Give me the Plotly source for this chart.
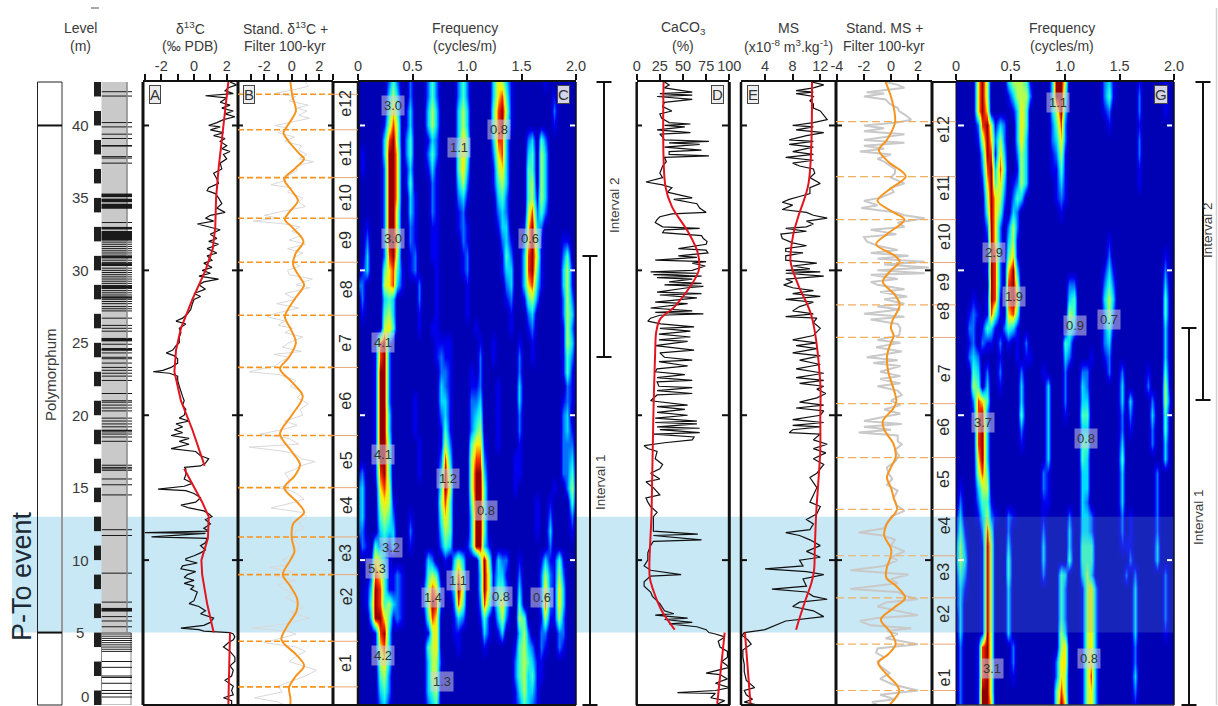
import plotly.graph_objects as go

W, H = 1218, 706
def X(px): return px / W
def Y(py): return 1 - py / H

# ---------- DATA (depth in m, value) ----------
d13c = [(43,2.2),(42.8,2.6),(42.6,2.1),(42.4,1.9),(42.2,2.4),(42.05,0.7),(41.9,2.0),(41.6,1.6),(41.4,2.2),(41.2,1.7),(41,2.4),(40.8,1.9),(40.6,2.5),(40.4,1.8),(40.2,1.4),(40,0.9),(39.9,1.6),(39.7,1.0),(39.5,1.8),(39.3,1.2),(39.1,1.9),(38.9,1.6),(38.6,2.0),(38.4,1.7),(38.2,2.2),(38,1.8),(37.7,2.0),(37.4,1.6),(37,1.7),(36.7,1.2),(36.3,1.4),(36,1.5),(35.7,0.9),(35.5,0.8),(35.3,1.3),(35,1.5),(34.6,1.7),(34.3,1.4),(34,1.9),(33.8,1.0),(33.6,0.7),(33.4,1.2),(33.2,0.2),(33,0.9),(32.8,1.6),(32.5,1.0),(32.2,1.4),(32,0.9),(31.8,1.5),(31.5,0.8),(31.2,1.4),(31,0.8),(30.7,1.1),(30.5,0.6),(30.2,1.1),(30,0.5),(29.8,1.0),(29.6,0.3),(29.4,1.5),(29.2,0.6),(29,0.3),(28.7,0.7),(28.4,0.0),(28.2,0.4),(28,0),(27.7,-0.1),(27.3,-0.2),(27,-0.4),(26.7,-0.7),(26.5,-1.1),(26.3,-0.5),(26,-0.9),(25.7,-0.8),(25.4,-0.9),(25,-0.9),(24.8,-1.1),(24.5,-1.3),(24.3,-1.7),(24.1,-1.2),(23.9,-1.0),(23.6,-1),(23.3,-1.4),(23.1,-1.9),(23,-2.5),(22.9,-1.5),(22.7,-1.0),(22.4,-1),(22,-0.9),(21.6,-0.8),(21.3,-0.7),(21,-0.6),(20.7,-0.7),(20.4,-0.5),(20,-0.6),(19.8,-0.9),(19.6,-0.3),(19.4,-1.1),(19.2,-0.7),(19,-1.2),(18.8,-0.7),(18.6,-1.4),(18.4,-0.3),(18.2,-0.9),(18,-0.3),(17.7,-1.4),(17.5,0.1),(17.2,0.4),(17,0.9),(16.7,0.7),(16.5,0.4),(16.4,-0.6),(16.3,-0.5),(15.9,-0.5),(15.6,-0.6),(15.3,-0.1),(15.1,-0.6),(14.9,-2.2),(14.8,-0.5),(14.6,0),(14.3,0.4),(14,0.1),(13.8,-0.8),(13.6,-0.3),(13.4,0.6),(13.2,0.9),(13,1.1),(12.8,0.7),(12.5,1.0),(12.2,0.6),(12,0.9),(11.9,-3.0),(11.85,0.7),(11.6,-2.6),(11.5,0.8),(11.2,0.7),(11,0.4),(10.7,0.7),(10.5,0.4),(10.3,0.0),(10.1,-0.5),(10,-0.5),(9.8,0.2),(9.6,-0.7),(9.4,-0.8),(9.2,0.1),(9,-0.4),(8.8,-0.6),(8.6,0),(8.4,-0.6),(8.2,0),(8,-0.2),(7.8,0.2),(7.5,0.1),(7.2,0),(7,-0.3),(6.8,0.3),(6.5,0.7),(6.3,0.4),(6,1.2),(5.7,1.0),(5.5,0.6),(5.3,-0.8),(5.2,0.3),(5.1,0.6),(5,2.2),(4.9,2.4),(4.7,2.5),(4.5,2.4),(4.3,2.1),(4,1.8),(3.7,2.2),(3.3,2.5),(3,2.5),(2.7,2.2),(2.4,2.4),(2,2.3),(1.7,1.9),(1.3,2.4),(1,2.3),(0.7,2.4),(0.5,1.8),(0.3,2.3),(0,2.3)]
d13c_trend = [(43,2.1),(40,1.8),(37,1.5),(35,1.35),(33,1.3),(31.5,1.15),(30,0.7),(28,-0.1),(26,-0.8),(24.5,-1.1),(23,-1.2),(21,-0.8),(19,-0.1),(16.5,0.65),(16.4,None),(16.3,-0.6),(14,0.5),(13,0.9),(11.5,0.85),(10,0.45),(9,0.5),(7,0.8),(5,1.2),(5,None),(5,2.2),(0,2.1)]
d13c_std = [(43,1),(42.7,1.2),(42.5,0.3),(42.2,-1.3),(42,0.3),(41.7,-0.2),(41.4,1.2),(41.2,0.4),(41,1.1),(40.7,0.5),(40.5,1.3),(40.2,-0.2),(40,-1.2),(39.8,-0.3),(39.5,-1),(39.2,0.2),(38.9,-0.5),(38.6,0.7),(38.3,0.5),(38,1.1),(37.7,0.5),(37.5,1.6),(37.2,0.3),(36.9,0.4),(36.5,-0.3),(36.2,-0.5),(35.9,-1.5),(35.7,0),(35.4,-0.3),(35,0.8),(34.7,0.5),(34.4,1),(34,-1),(33.8,-2),(33.6,-1),(33.4,-2.8),(33.2,-0.5),(33,0.6),(32.7,0),(32.4,0.7),(32.1,-0.2),(31.8,1),(31.5,-0.3),(31.2,0.8),(30.9,0.2),(30.6,0),(30.3,0.6),(30,-0.3),(29.7,-0.2),(29.4,1.5),(29,0.3),(28.8,1.3),(28.4,-0.5),(28,0.3),(27.7,-1.1),(27.4,0.5),(27,-1.3),(26.8,-1.8),(26.5,-0.5),(26.2,-1),(26,0.1),(25.7,-0.5),(25.4,0.8),(25,-0.2),(24.7,-0.7),(24.4,0.7),(24.2,-1.3),(24,-0.2),(23.7,-0.8),(23.4,-1.2),(23,-3.1),(22.8,-0.9),(22.4,0.3),(22,-0.1),(21.6,0.8),(21.2,0.4),(20.8,1.2),(20.4,0.6),(20,0.8),(19.6,-0.5),(19.3,0.4),(19,-0.7),(18.7,-2.3),(18.4,-0.2),(18,0.5),(17.8,-3.1),(17.5,-0.5),(17.3,0.3),(17,0.7),(16.8,1.7),(16.5,0.6),(16.3,0.3),(16,-0.5),(15.6,-0.2),(15.2,-0.2),(15,-1),(14.8,-0.1),(14.5,0.5),(14.2,0.9),(13.9,-0.2),(13.6,-1.5),(13.3,0.7),(13,1.1),(12.5,0.5),(12.2,0.9),(12,0.3),(11.5,0.1),(11,0.6),(10.5,0.3),(10,-0.7),(9.7,-0.2),(9.5,-1.6),(9.2,0.1),(8.9,-1.2),(8.6,0.3),(8.3,-1),(8,-0.6),(7.7,0.1),(7.4,-0.5),(7,0.5),(6.7,0.8),(6.4,-0.1),(6,1.3),(5.6,-0.5),(5.3,-2.9),(5.1,-0.3),(4.9,0.3),(4.6,-0.8),(4.3,-2),(4,0.3),(3.7,1),(3.4,0.4),(3,-0.2),(2.7,0.8),(2.4,1.8),(2,1),(1.7,0.2),(1.3,-1),(0.9,-0.7),(0.5,-2.7),(0.2,-1),(0,-0.5)]
d13c_filter = [(43,-0.1),(42,0.05),(41,0.3),(40,-0.3),(39.5,-0.6),(39,-0.3),(38,0.6),(37.7,0.9),(37,0.2),(36.3,-0.55),(35.5,0),(34.8,0.45),(34,-0.2),(33.5,-0.5),(33,0),(32,0.85),(31.2,0.3),(30.4,0.1),(29.5,0.6),(29,0.9),(28,0.2),(26.8,-0.5),(26,-0.1),(25,0.3),(24,-0.2),(23.2,-0.85),(22.3,0),(21.3,0.8),(20,0),(18.7,-0.85),(17.5,0),(16.6,0.6),(15.8,0.2),(15,-0.55),(14,0.4),(13.3,0.9),(12.5,0.1),(11.5,0),(10.6,0.2),(10,-0.1),(9,-0.65),(8.2,-0.1),(7.3,0.4),(6.5,0.35),(5.5,-0.3),(4.5,-0.75),(3.5,0.3),(2.7,0.9),(2,0.3),(1.2,-0.2),(0.5,-0.1),(0,-0.1)]
caco3 = [(43,30),(42.8,35),(42.6,30),(42.3,60),(42.2,25),(42.1,60),(42,22),(41.8,60),(41.6,30),(41.3,28),(41,38),(40.8,25),(40.5,27),(40.2,35),(40.1,58),(40,30),(39.9,52),(39.7,22),(39.5,58),(39.4,25),(39.2,28),(39,30),(38.9,78),(38.8,35),(38.7,68),(38.5,30),(38.3,70),(38.2,35),(38,35),(37.9,78),(37.8,30),(37.5,32),(37.2,28),(37,27),(36.7,25),(36.4,28),(36.1,10),(35.9,28),(35.7,38),(35.4,33),(35,60),(34.9,40),(34.6,65),(34.3,68),(34,75),(33.9,38),(33.7,25),(33.5,22),(33.3,20),(33,28),(32.9,68),(32.8,30),(32.6,28),(32.4,70),(32.2,72),(32,76),(31.8,75),(31.5,45),(31.4,75),(31.2,77),(31,45),(30.9,65),(30.7,20),(30.6,75),(30.5,60),(30.3,74),(30,60),(29.9,15),(29.8,65),(29.7,18),(29.6,70),(29.5,22),(29.4,60),(29.2,35),(29.1,70),(29,30),(28.9,72),(28.8,55),(28.5,22),(28.4,70),(28.3,25),(28.1,65),(27.8,20),(27.7,55),(27.4,15),(27.2,60),(27.1,20),(27,72),(26.9,25),(26.7,15),(26.5,12),(26.3,26),(26.1,62),(26,25),(25.8,58),(25.6,24),(25.4,58),(25.2,24),(25.1,55),(24.8,20),(24.5,62),(24.3,25),(24,30),(23.8,60),(23.7,24),(23.4,55),(23.2,22),(23,20),(22.8,52),(22.6,22),(22.4,60),(22.3,22),(22,24),(21.9,60),(21.7,22),(21.5,60),(21.4,22),(21,15),(20.7,55),(20.6,22),(20.4,52),(20.2,22),(20,55),(19.8,20),(19.6,65),(19.5,20),(19.4,65),(19.2,22),(19.1,68),(19,25),(18.8,68),(18.7,18),(18.5,62),(18.3,60),(18.1,30),(17.9,8),(17.7,12),(17.5,22),(17,20),(16.6,28),(16.3,25),(16,15),(15.6,25),(15.4,10),(15,18),(14.5,25),(14.3,10),(14,12),(13.7,15),(13.3,22),(13,18),(12.5,18),(12,18),(11.8,66),(11.7,18),(11.4,70),(11.3,18),(11,15),(10.5,12),(10,12),(9.6,8),(9.3,15),(9,48),(8.9,15),(8.5,8),(8.2,8),(7.8,15),(7.5,17),(7,25),(6.5,30),(6.3,40),(6.2,20),(6,55),(5.9,30),(5.7,60),(5.6,35),(5.4,65),(5.2,75),(5,78),(4.9,85),(4.7,95),(4.4,88),(4,90),(3.7,98),(3.3,98),(3,92),(2.6,100),(2.2,75),(2.1,90),(1.8,98),(1.5,85),(1.2,100),(1,85),(0.85,44),(0.8,85),(0.5,80),(0.3,95),(0,85)]
caco3_trend = [(43,29),(35.8,31),(34.4,38),(32.6,56),(31.2,66),(30,67),(28.9,58),(27.5,41),(26.6,25),(25.7,21),(24.5,20),(20,18),(13.2,16),(8.85,14),(7.9,18),(6.5,27),(5.2,41),(5.1,None),(5,95),(0.1,87)]
ms = [(43,10.8),(42.8,12.5),(42.6,11),(42.4,8.5),(42.3,11),(42.2,8.5),(42,11),(41.7,10.5),(41.5,11),(41.2,11),(41,12),(40.7,12.5),(40.4,13),(40.2,11),(40,8),(39.9,11),(39.7,8.5),(39.5,12.5),(39.3,10),(39,7.5),(38.9,11),(38.7,7.5),(38.5,11),(38.2,8),(38,11),(37.8,7),(37.6,11),(37.4,8),(37.2,9),(37,11),(36.7,11.2),(36.4,10.5),(36,12),(35.7,10.5),(35.3,10.5),(35.1,9),(34.9,7.5),(34.7,6.5),(34.5,8),(34.2,6.5),(34,10),(33.8,11),(33.6,13),(33.4,10),(33.2,11),(33,10),(32.9,7),(32.7,10),(32.5,6.3),(32.2,6.5),(31.9,8),(31.7,10),(31.5,7),(31.3,7),(31.2,9.5),(31,7),(30.7,7),(30.5,11.5),(30.3,8),(30.1,10.5),(30,7),(29.9,12),(29.8,7),(29.6,12.5),(29.4,7),(29.2,8),(29,6.7),(28.8,8),(28.6,11),(28.4,8),(28.2,12),(28,7),(27.8,11),(27.5,9),(27.2,8),(27,11),(26.8,7),(26.7,11.5),(26.4,11),(26,12),(25.5,11),(25.2,8),(25,11.5),(24.8,8.5),(24.6,11.5),(24.3,8),(24.1,12),(23.8,9),(23.5,12),(23.2,8.5),(22.9,12.5),(22.6,8.5),(22.4,12.5),(22.2,9),(22,12.5),(21.8,11.5),(21.5,12.8),(21.2,11.5),(20.9,9),(20.7,12.5),(20.5,8.5),(20.3,12.5),(20,12),(19.7,8),(19.5,12.5),(19.3,8),(19.2,12),(19,8),(18.8,7.5),(18.7,12),(18.3,11),(18,13),(17.7,11),(17.4,12.8),(17,11),(16.6,12.5),(16,11.5),(15.7,10.5),(15.3,11),(15,11.5),(14.5,11),(14,10.5),(13.7,12),(13.2,11.5),(12.8,10),(12.5,11),(12.1,10.5),(11.9,7),(11.7,9),(11.4,10.5),(11,12),(10.6,10),(10.2,12),(10,9),(9.6,9.5),(9.4,4),(9.2,10),(9,12.5),(8.7,9.5),(8.2,10),(8,5),(7.8,10),(7.5,11),(7.3,13),(7.1,9),(6.8,8),(6.5,11),(6.1,12.5),(5.8,7),(5.5,5.5),(5.2,4),(5,1),(4.8,0.7),(4.5,1.5),(4.2,2),(3.8,0.8),(3.3,0.8),(2.8,1),(2.3,1),(1.7,1.3),(1.2,2.5),(1,1),(0.7,1.3),(0.4,2.2),(0.2,1),(0,3)]
ms_trend = [(43,10.8),(36,10.3),(33.7,8.8),(32.5,8.1),(30.6,7.7),(29,8.8),(26.9,10.7),(22.2,12),(19.9,12),(17.6,12),(15.3,11.7),(13.2,11.4),(10.7,11.2),(9.3,11.1),(8.4,10.7),(7.3,9.9),(6,9),(5.2,8.5),(5.1,None),(5,1.1),(0.1,1.9)]
ms_std = [(43,-0.4),(42.8,0.5),(42.6,1),(42.3,-1.8),(42.2,-0.5),(42,-2),(41.8,-0.4),(41.5,-0.1),(41.2,0.5),(41,0.6),(40.7,1.1),(40.4,1.5),(40.2,0.5),(40,-2),(39.8,-0.5),(39.6,-2),(39.4,1),(39.2,-0.5),(39,-2),(38.8,1),(38.6,-2),(38.4,-0.5),(38.2,-2.3),(38,0),(37.7,-1),(37.5,-0.5),(37,0.3),(36.7,0.3),(36.4,0),(36,1),(35.7,0),(35.4,0.2),(35,-0.8),(34.8,-2),(34.5,-1),(34.3,-2.2),(34,0.4),(33.8,1),(33.6,2.5),(33.3,0.5),(33,1),(32.8,-1.5),(32.5,0.4),(32.3,-2),(32,-1.8),(31.7,-1),(31.4,0.5),(31.2,-1.5),(31,1.3),(30.8,-1),(30.6,2.5),(30.4,-0.5),(30.2,2.8),(30,-1),(29.8,2.5),(29.7,-1.5),(29.4,0.5),(29.2,-1.5),(29,-1),(28.7,1),(28.5,-0.8),(28.2,1.2),(28,-0.5),(27.7,1),(27.5,-1),(27.3,0.7),(27,-2),(26.8,1),(26.6,-1.5),(26.3,0.5),(26,0.7),(25.5,0.6),(25.2,-1),(25,0.7),(24.7,-1.1),(24.4,0.8),(24,-1.8),(23.8,0.5),(23.6,-1.3),(23.4,0.7),(23,-0.8),(22.7,0.7),(22.5,-0.8),(22.2,0.7),(22,-1),(21.7,0.5),(21.4,0.8),(21,0),(20.7,0.7),(20.4,-0.5),(20.1,0.7),(19.9,-0.5),(19.6,-2),(19.4,0.8),(19.2,-2),(19,0),(18.8,-2.4),(18.6,0.5),(18.2,0.5),(18,0.8),(17.6,0.3),(17.2,0.6),(16.8,0.3),(16.4,-0.3),(16,-0.2),(15.6,0.1),(15.2,-0.3),(14.8,0.5),(14.3,0.2),(13.8,0.4),(13.4,1),(13,0),(12.6,-0.3),(12.2,-0.5),(11.9,-2.4),(11.7,-0.6),(11.4,0.3),(11,0),(10.6,1),(10.2,0),(10,0.5),(9.6,-0.5),(9.3,-3),(9,1.3),(8.7,0),(8.4,0.5),(8,-3),(7.8,0.5),(7.5,1.2),(7.3,2),(7.1,-0.3),(6.8,-1),(6.5,0.5),(6.2,2),(6,-1),(5.8,-2.3),(5.5,-1.5),(5.3,1.5),(5.1,-0.3),(4.9,0.5),(4.6,-0.4),(4.2,2),(3.9,-1),(3.6,-1.1),(3.3,-0.5),(3,-1),(2.7,-0.8),(2.2,-0.1),(1.8,-0.8),(1.4,0.2),(1,2),(0.7,-0.8),(0.4,0.3),(0.2,-1.4),(0,-1)]
ms_filter = [(43,-0.4),(42,0),(41,0.25),(40.2,0.3),(39,-0.3),(38.3,-0.9),(37.5,-0.2),(36.5,1.1),(35.6,-0.1),(34.8,-1.0),(34,0.2),(33.5,1.0),(32.5,-0.3),(31.8,-1.1),(31,0.3),(30.6,0.65),(30,0),(29.2,-0.6),(28.3,0.3),(27.6,0.65),(26.5,0.1),(26,0),(25.5,0.2),(25,0),(24.5,-0.2),(24,-0.3),(23,-0.2),(21.8,0.2),(21,0.4),(20.5,0.2),(19.6,-0.6),(19,-0.5),(18,0.2),(17.1,0.35),(16.4,0),(15.7,-0.3),(15,0),(14.3,0.2),(13.5,0.45),(12.5,-0.3),(11.7,-0.5),(10.8,0),(10.3,0),(9.5,-0.3),(8.8,-0.35),(8.2,0.4),(7.4,1.05),(6.7,0.2),(5.9,-0.75),(5,0),(4.2,0.35),(3.5,-0.2),(2.9,-0.95),(2.2,-0.4),(1.3,0.5),(0.9,0.6),(0,-0.1)]

d13c_cycle_depths = [42.15,39.7,36.4,33.6,30.56,26.9,23.3,18.6,15.0,11.6,9.0,4.4,1.25]
ms_cycle_depths = [40.26,36.47,33.5,30.54,27.62,25.37,20.8,17.08,13.5,10.3,7.4,4.2,1.0]
cycle_names = ["e12","e11","e10","e9","e8","e7","e6","e5","e4","e3","e2","e1"]
cycle_c_depths = [41.5,38.1,35,32.1,28.7,25,21,16.9,13.8,10.5,7.5,2.9]
cycle_g_depths = [39.7,35.7,32.3,29.2,27.2,22.9,19.2,15.6,12.4,9.2,6.3,1.9]

level_ticks = [40,35,30,25,20,15,10,5,0]
mark_depths = [40,30,20,10]
scale_bottoms = [42,40,38,36,34,32,30,28,26,24,22,20,18,16,14,12,10,8,6,4,2,0]
bed_lines = [42.33,42.03,40.2,39.9,39.4,39.1,38.6,37.85,37.75,37.4,33.3,31.95,31.8,31.65,31.5,31.35,31.2,31.05,30.7,30.55,30.15,30.0,29.85,29.7,29.55,29.4,29.25,29.1,28.95,28.75,28.6,28.45,28.3,28.15,28.0,27.85,27.7,27.5,27.35,27.2,26.7,26.2,26.0,25.8,25.3,24.9,24.6,24.3,24.0,23.9,23.6,23.3,23.1,22.9,22.7,22.4,21.5,21.0,20.9,20.7,20.5,20.3,19.8,19.6,19.4,19.2,18.85,18.7,18.5,18.2,16.55,16.4,16.3,16.2,15.6,15.2,14.5,12.1,11.7,9.1,7.1,6.1,5.8,5.4,4.9,4.75,4.6,4.45,4.3,4.15,4.0,3.85,3.7,3.0,2.6,2.0,1.9,1.5,1.0,0.8,0.55]
thick_beds = [(38.65,38.55),(35.3,35.05),(34.95,34.7),(34.6,34.25),(33.0,32.82),(32.72,32.05),(31.0,30.82),(30.5,30.3),(28.95,28.75),(28.2,28.05),(25.3,25.1),(24.6,24.45),(19.0,18.9),(6.7,6.45)]

freq_step = 0.04
spec_depths_top_down = list(range(43,-1,-1))
spec_c = [
"1111111353 1131113531 1113531111 1476421111 11121111111",
"1111111464 1131113531 1113531111 1478521111 11111211111",
"1111111575 1241114641 1114641111 1589621111 11111311111",
"1111112686 1241114641 1114641111 1589521111 11111211111",
"1111114896 1351112431 1114751111 1488411113 41531111111",
"1211114997 1351113531 1115751111 1378411114 51641111111",
"1211113997 1241112421 1115741111 1267411115 51641111111",
"1111113997 1251111321 1114631111 1256411115 61641111111",
"1111113997 1142111321 1113421111 1145311115 62641111111",
"1111113996 1142111321 1112311111 1134311116 83531111111",
"1121113996 1132111221 1112321111 1124411127 94311111111",
"1131113997 1132111221 1111321111 1113421137 95211112211",
"1141113896 1123111221 1111231111 1112531148 96211113511",
"1241115785 2123111121 1111231111 1112441148 95211114621",
"3311116784 2111311121 1111121111 1111341147 84211114621",
"1311114541 1111311121 1111121111 1111231125 63111113631",
"1211115641 1111211121 1111121111 1111121113 41111113641",
"1111116751 1111211221 1111111211 1111121112 31111112631",
"1111289311 1111111122 2211111121 1211111211 21111112641",
"1111289311 1111111123 2211111131 1211111311 21111112531",
"1111299311 1111111113 3211112131 1111111311 11111112521",
"1111299311 1111111114 3211112231 1121111411 11111111321",
"1111299311 1112111114 4211113341 1121111411 11111112321",
"1111299411 1112111113 4211113451 1121111311 11111113411",
"1111299411 1112111112 5211113561 1121111311 11111113421",
"1111299511 1111211112 6311115772 1121111211 11111113331",
"1111299511 1111211113 8411116883 1111112211 11111113341",
"2311289511 1111211114 9511116994 1111112211 11111113351",
"3411178611 1111111115 9611116995 1111112111 11111211361",
"3411167621 1111111116 8511115995 1111111111 12112111151",
"3411156531 1121111115 7511114995 1111111111 12113111131",
"3311145441 1131111114 6511114995 1111111111 12114111121",
"1321534241 1121111113 5411124994 2111111111 11113111111",
"1112764211 1111114311 2146411159 5143311211 11242252111",
"1113875223 2111115651 1258511149 6244211311 11363263111",
"1124985223 2111126872 1249611149 6255311411 11373274111",
"1125985643 2111126982 1138511138 5257411511 11383274111",
"1114997523 2111115871 1124311125 2146311651 11262263111",
"1111289411 1111112671 1122111114 2124111463 11331133111",
"1111278411 1111115671 1112111112 1111112564 31321132111",
"1111167411 1111114662 1111111111 1111113565 42211111111",
"1111156311 1111114661 1111111111 1111113564 52211111111",
"1111145311 1111114561 1111111111 1111112464 42111111111",
"1111134211 1111113451 1111111111 1111112354 32111111111",
]
spec_g = [
"1111179611 1146665211 1149961111 1111342111 11211111211",
"1111179611 1124666311 1149951111 1111352111 11311111211",
"1111179711 1112475111 1146941111 1111231111 11311111211",
"1111138962 4311475111 1135831111 1111121111 11211111111",
"1111126973 6311474111 1134731111 1111111111 11311111111",
"1111114982 7411364111 1123621111 1111111111 11311111111",
"1111113894 8511264111 1122521111 1111111111 11211111111",
"1111112795 7412364111 1112421111 1111111111 11211111111",
"1111111697 6313541111 1112321111 1111111111 11111111111",
"1111111597 5214311111 1111211111 1111111111 11111111111",
"1111111397 3136311111 1111111111 1111111111 11111111111",
"1111111297 3146211111 1111111111 1111121111 11111111111",
"1111111198 3157211111 1111111111 1111131111 11111111211",
"1111111298 3179411111 1111111111 1111242111 11111111311",
"1111111198 3189611111 1111113311 1111353111 11111111411",
"1111211298 2189711111 1111114511 1111464111 11111111511",
"1112321285 2178511111 1111116511 1111363111 11111111511",
"1113312542 1354211111 1111115411 1111352111 11111111411",
"1112313221 3121213111 1111154111 1111341111 11111111411",
"1113431111 2111212211 1111143111 1211231111 11111111411",
"1111541311 3111131111 2111131113 3111131131 11112111511",
"1111651411 2111141111 1411131114 3111111141 11113111611",
"1111387511 1111141111 1411131114 4111111141 41111311621",
"1111289311 1111151111 1411121115 5111111131 31111411511",
"1111189411 1111131111 1411111114 4111111131 21111311511",
"1111189411 1111121111 1411111115 5111111141 11111311411",
"1111179411 1111111111 1411111115 4111111151 11111111411",
"1111168511 1111111111 3211111114 4111111141 11111131111",
"1211146611 1111111111 3211111114 4111111141 11111131111",
"1311135521 1111111111 2211111114 3111111141 11111131111",
"2411124632 1132111111 2111113114 4311111131 21111131111",
"2521113851 1131111111 3111114114 4311111131 21111131111",
"3631112961 1141111111 4111114115 5511111122 21111141111",
"3641112961 1151111111 4111115115 5511111111 31111141111",
"2531112961 1151111111 3111541114 6411111113 13111111311",
"2421112961 1141111111 1111531112 6731111111 14111111311",
"2411112961 1141111111 1111531112 6731111111 14111111311",
"1411112961 1141111111 1111531112 6731111111 14111111311",
"1411112961 1141111111 1111641112 6731111111 14111111211",
"1311128961 1113111111 1111671112 6731111111 13111111111",
"1311128961 1113111111 1113771112 6731111111 13111111111",
"1311128961 1112111111 1113761112 6831111111 14111111111",
"1311129961 1111111111 1115861112 6731111111 13111111111",
"1311129971 1111111111 1115971112 6731111111 12111111111",
]
c_labels = [("3.0",.32,41.35),("0.8",1.29,39.7),("1.1",.925,38.5),("3.0",.32,32.2),("0.6",1.58,32.2),("4.1",.23,25),("4.1",.23,17.3),("1.2",.83,15.6),("0.8",1.17,13.4),("3.2",.30,10.9),("5.3",.17,9.4),("1.1",.92,8.6),("1.4",.69,7.4),("0.8",1.31,7.5),("0.6",1.69,7.4),("4.2",.23,3.45),("1.3",.77,1.65)]
g_labels = [("1.1",.934,41.6),("2.9",.345,31.2),("1.9",.53,28.2),("0.9",1.09,26.2),("0.7",1.40,26.6),("3.7",.25,19.5),("0.8",1.19,18.4),("0.8",1.22,3.2),("3.1",.33,2.5)]

# ---------- STYLE ----------
FONT = "Liberation Sans"
TXT = "#3a3a3a"
ORANGE = "#f7941d"
RED = "#e3141f"
BAND = "#c9e8f5"
JET = [[0,"#00007a"],[1/9,"#0000b4"],[2/9,"#0000f0"],[3/9,"#0070ff"],[4/9,"#00dcff"],[5/9,"#40ffc0"],[6/9,"#b4ff50"],[7/9,"#ffee00"],[8/9,"#ff3000"],[1,"#900000"]]

def unz(pairs):
    return [p[1] for p in pairs], [p[0] if p[1] is not None else None for p in pairs]

def grid(rows):
    out = []
    for r in rows[::-1]:
        s = r.replace(" ", "").ljust(51, "1")[:51]
        out.append([int(c) for c in s])
    return out

fig = go.Figure()
def line(pairs, ax, color, width, spline=False):
    xs, ys = unz(pairs)
    fig.add_trace(go.Scatter(x=xs, y=ys, xaxis=ax, yaxis="y", mode="lines", hoverinfo="skip", showlegend=False,
                             line=dict(color=color, width=width, shape="spline" if spline else "linear", smoothing=0.9)))

freqs = [i * freq_step for i in range(51)]
depths_up = spec_depths_top_down[::-1]
fig.add_trace(go.Heatmap(z=grid(spec_c), x=freqs, y=depths_up, xaxis="x3", yaxis="y", colorscale=JET, zmin=0, zmax=9, zsmooth="best", showscale=False, hoverinfo="skip"))
fig.add_trace(go.Heatmap(z=grid(spec_g), x=freqs, y=depths_up, xaxis="x7", yaxis="y", colorscale=JET, zmin=0, zmax=9, zsmooth="best", showscale=False, hoverinfo="skip"))

line(d13c, "x", "#111111", 1.2)
line(d13c_trend, "x", RED, 2)
line(d13c_std, "x2", "#d9d9d9", 1)
line(d13c_filter, "x2", ORANGE, 2, True)
line(caco3, "x4", "#111111", 1.2)
line(caco3_trend, "x4", RED, 2, True)
line(ms, "x5", "#111111", 1.2)
line(ms_trend, "x5", RED, 2, True)
line(ms_std, "x6", "#c9c9c9", 2)
line(ms_filter, "x6", ORANGE, 2, True)

# lithology beds on their own hidden axis
bx, by = [], []
for d in bed_lines:
    bx += [0, 1, None]; by += [d, d, None]
fig.add_trace(go.Scatter(x=bx, y=by, xaxis="x8", yaxis="y", mode="lines", hoverinfo="skip", showlegend=False, line=dict(color="#1a1a1a", width=1)))

def xax(x0, x1, rng, tickvals, ticktext, minor=None):
    ax = dict(domain=[X(x0), X(x1)], range=rng, anchor="y", side="top", showgrid=False, zeroline=False,
              showline=True, linecolor="#111", linewidth=2, ticks="outside", ticklen=6, tickwidth=1.5, tickcolor="#111",
              tickmode="array", tickvals=tickvals, ticktext=ticktext, tickangle=0, ticklabelstandoff=-3,
              tickfont=dict(family=FONT, size=14.5, color=TXT))
    if minor:
        ax["minor"] = dict(tickmode="array", tickvals=minor, ticks="outside", ticklen=6, tickwidth=1.5, tickcolor="#111", showgrid=False)
    return ax

freq_ticks = [0, .5, 1, 1.5, 2]
freq_text = ["0", "0.5", "1.0", "1.5", "2.0"]
layout = dict(
    width=W, height=H, margin=dict(l=0, r=0, t=0, b=0, autoexpand=False), paper_bgcolor="white", plot_bgcolor="rgba(0,0,0,0)",
    showlegend=False, font=dict(family=FONT, color=TXT),
    yaxis=dict(domain=[Y(705), Y(82)], range=[0, 43], visible=False, fixedrange=True, anchor="x"),
    xaxis=xax(143, 238, [-3.12, 2.69], [-2,0,2], ["-2","0","2"], [-3,-1,1]),
    xaxis2=xax(238, 333, [-3.91, 3.0], [-2,0,2], ["-2","0","2"], [-3,-1,1,3]),
    xaxis3=xax(358, 576, [0, 2], freq_ticks, freq_text),
    xaxis4=xax(636.7, 729.3, [0, 100], [0,25,50,75,100], ["0","25","50","75","100"]),
    xaxis5=xax(741, 836, [0.53, 14.27], [4,8,12], ["4","8","12"]),
    xaxis6=xax(836, 932, [-4.07, 3.04], [-4,-2,0,2], ["-4","-2","0","2"]),
    xaxis7=xax(956, 1174, [0, 2], freq_ticks, freq_text),
    xaxis8=dict(domain=[X(101.5), X(132)], range=[0, 1], anchor="y", visible=False),
)
shapes = []
def seg(x0, y0, x1, y1, color="#111", w=1, layer="above", dash=None):
    shapes.append(dict(type="line", xref="paper", yref="paper", x0=X(x0), x1=X(x1), y0=Y(y0), y1=Y(y1), layer=layer,
                       line=dict(color=color, width=w, dash=dash or "solid")))
def dseg(x0, x1, d, color, w=1, dash=None, layer="above"):
    shapes.append(dict(type="line", xref="paper", yref="y", x0=X(x0), x1=X(x1), y0=d, y1=d, layer=layer,
                       line=dict(color=color, width=w, dash=dash or "solid")))

# P-To event band
shapes.append(dict(type="rect", xref="paper", yref="y", x0=X(12), x1=X(1174), y0=5, y1=13, layer="below", fillcolor=BAND, line=dict(width=0)))
shapes.append(dict(type="rect", xref="paper", yref="y", x0=X(956), x1=X(1174), y0=5, y1=13, layer="above", fillcolor="rgba(110,170,215,0.22)", line=dict(width=0)))

# stage box
seg(37.5, 82, 37.5, 705, "#222", 1); seg(62, 82, 62, 705, "#999", 2)
seg(37.5, 82, 62, 82, "#222", 1); seg(37.5, 705, 62, 705, "#222", 1)
dseg(37.5, 62, 40, "#111", 2); dseg(37.5, 62, 5, "#111", 2)

# lithology
shapes.append(dict(type="rect", xref="paper", yref="y", x0=X(101.5), x1=X(127), y0=5, y1=43, layer="below", fillcolor="#c9c9c9", line=dict(width=0)))
shapes.append(dict(type="rect", xref="paper", yref="y", x0=X(101.5), x1=X(131), y0=0, y1=5, layer="below", fillcolor="white", line=dict(color="#888", width=1)))
seg(127, 82, 127, 633, "#888", 1.5)
for b in scale_bottoms:
    shapes.append(dict(type="rect", xref="paper", yref="y", x0=X(94), x1=X(101), y0=b, y1=b + 1, fillcolor="#1f1f1f", line=dict(width=0), layer="above"))
for t, b in thick_beds:
    shapes.append(dict(type="rect", xref="paper", yref="y", x0=X(101.5), x1=X(132), y0=b, y1=t, fillcolor="#1a1a1a", line=dict(width=0), layer="above"))

# panel frames
for x, w in [(143,3),(238,3),(333,3),(358,2.5),(576,1.5),(636.7,2.5),(729.3,3),(741,2.5),(836,3),(932,3),(956,1),(1174,1.5)]:
    seg(x, 82, x, 705, "#111", w)
seg(143, 705, 576, 705, "#111", 2); seg(636, 705, 730, 705, "#111", 2); seg(741, 705, 956, 705, "#111", 2)
seg(956, 705, 1174, 705, "#333", 1.5); seg(333, 82, 358, 82, "#111", 2); seg(932, 82, 956, 82, "#111", 2)
seg(1216.5, 8, 1216.5, 705, "#d0d0d0", 1.5)
seg(91, 8, 99, 8, "#555", 1)

# depth marks
for d in mark_depths:
    for a, b in [(143,149),(232,243),(328,333),(636.7,642),(722,729),(741,747),(829,842),(925,932)]:
        dseg(a, b, d, "#111", 2)
    for a, b in [(360,365),(570,575),(958,964),(1167,1172)]:
        dseg(a, b, d, "white", 2)

# cycle limits
for d in d13c_cycle_depths:
    dseg(238, 333, d, ORANGE, 1.6, "6px,3px")
    dseg(333, 358, d, "#e8a878", 1)
for d in ms_cycle_depths:
    dseg(836, 932, d, "#f0b060", 1.2, "8px,4px")
    dseg(932, 956, d, "#e8a878", 1)

# interval bars
def vbar(x, y0, y1, cap=7.5):
    seg(x, y0, x, y1, "#111", 2)
    seg(x - cap, y0, x + cap, y0, "#111", 2); seg(x - cap, y1, x + cap, y1, "#111", 2)
vbar(604, 82, 357); vbar(590, 256, 705); vbar(1203, 82, 400); vbar(1189, 328, 705)
layout["shapes"] = shapes

ann = []
def T(px, py, text, size=14, angle=0, color=TXT):
    ann.append(dict(xref="paper", yref="paper", x=X(px), y=Y(py), text=text, showarrow=False, textangle=angle,
                    font=dict(family=FONT, size=size, color=color), xanchor="center", yanchor="middle"))
for x, a, b in [(80,"Level","(m)"),(190,"δ<sup>13</sup>C","(‰ PDB)"),(285,"Stand. δ<sup>13</sup>C +","Filter 100-kyr"),
                (465,"Frequency","(cycles/m)"),(683,"CaCO<sub>3</sub>","(%)"),(788,"MS","(x10<sup>-8</sup> m<sup>3</sup>.kg<sup>-1</sup>)"),
                (884,"Stand. MS +","Filter 100-kyr"),(1062,"Frequency","(cycles/m)")]:
    T(x, 28, a, 14); T(x, 46, b, 14)
for d in level_ticks:
    ann.append(dict(xref="paper", yref="y", x=X(80 if d else 85), y=d, text=str(d), showarrow=False, yshift=9 if d == 0 else 0,
                    xanchor="center", yanchor="middle", font=dict(family=FONT, size=15, color=TXT)))
T(50, 375, "Polymorphum", 15, -90)
T(22, 576, "P-To event", 27, -90, "#1c2a36")
T(614, 205, "Interval 2", 13.5, -90); T(601, 482, "Interval 1", 13.5, -90)
T(1208, 230, "Interval 2", 13.5, -90); T(1198, 517, "Interval 1", 13.5, -90)
for name, d in zip(cycle_names, cycle_c_depths):
    ann.append(dict(xref="paper", yref="y", x=X(346), y=d, text=name, showarrow=False, textangle=-90, xanchor="center", yanchor="middle",
                    font=dict(family=FONT, size=16, color="#2a2a2a")))
for name, d in zip(cycle_names, cycle_g_depths):
    ann.append(dict(xref="paper", yref="y", x=X(944), y=d, text=name, showarrow=False, textangle=-90, xanchor="center", yanchor="middle",
                    font=dict(family=FONT, size=16, color="#2a2a2a")))
for ax, labs in [("x3", c_labels), ("x7", g_labels)]:
    for t, f, d in labs:
        ann.append(dict(xref=ax, yref="y", x=f, y=d, text=t, showarrow=False, bgcolor="rgba(205,205,225,0.55)", borderpad=2,
                        xanchor="center", yanchor="middle", font=dict(family=FONT, size=13, color="#333")))
for t, px in [("A",155),("B",249),("C",563),("D",717),("E",753),("G",1161)]:
    ann.append(dict(xref="paper", yref="paper", x=X(px), y=Y(95), text=t, showarrow=False, bgcolor="rgba(235,235,235,0.9)",
                    xanchor="center", yanchor="middle", bordercolor="#444", borderwidth=1, borderpad=0, font=dict(family=FONT, size=15, color="#333")))
layout["annotations"] = ann
fig.update_layout(**layout)
fig.write_html("out.html", config={"displayModeBar": False}, post_script="document.body.style.margin='0';")
